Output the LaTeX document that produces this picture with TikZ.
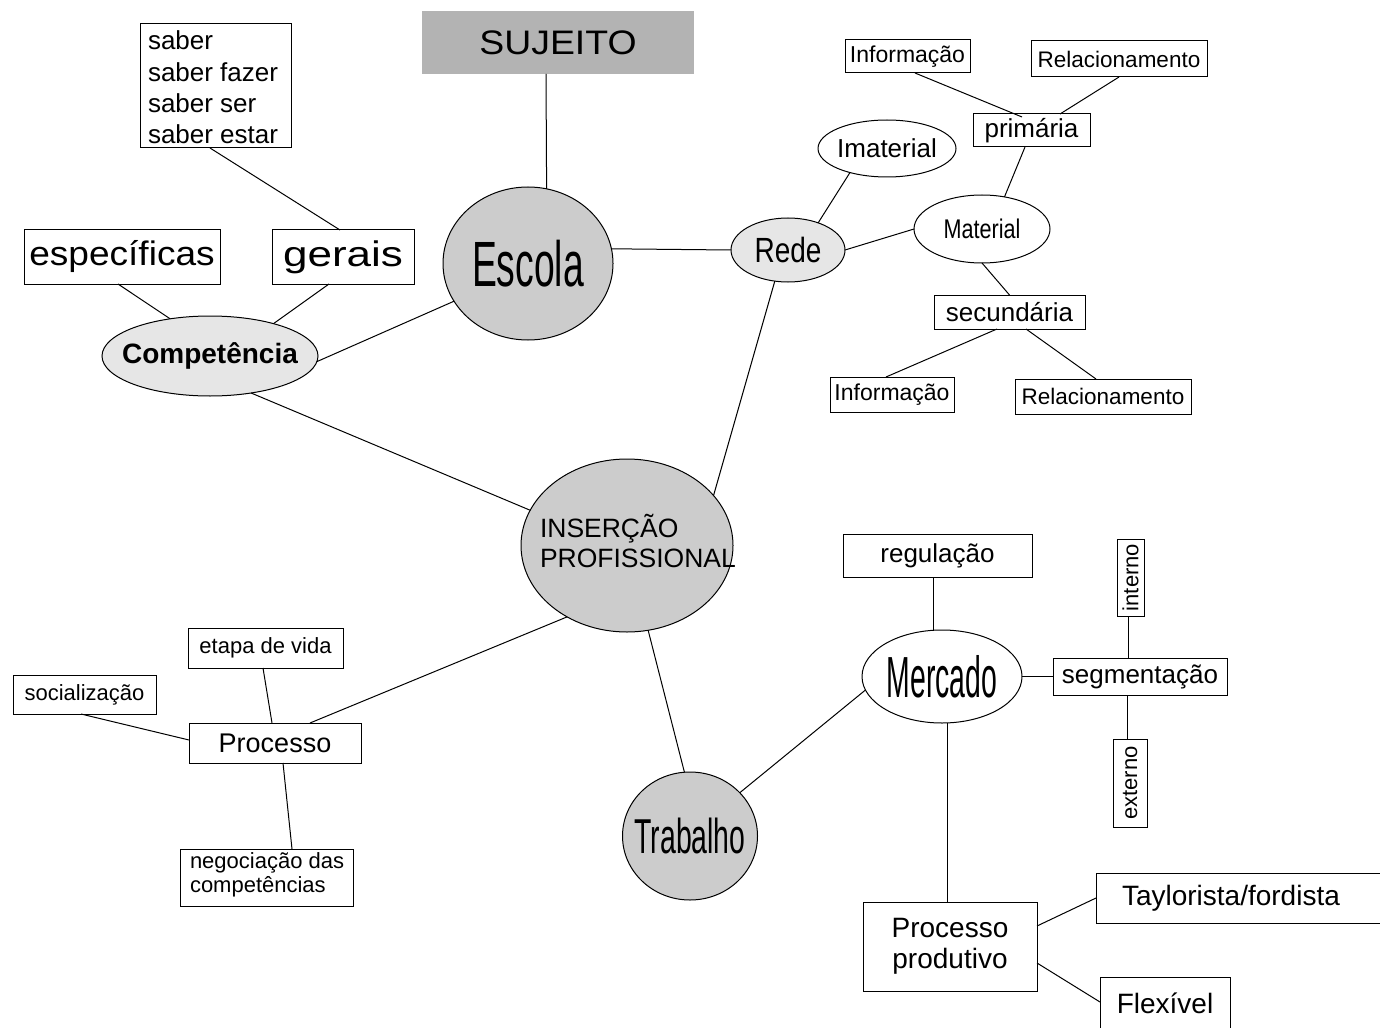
\documentclass[tikz,border=0pt]{standalone}
\usepackage{fontspec}
\setmainfont{Liberation Sans}
\usepackage{graphicx}
\usetikzlibrary{shapes.geometric}
\definecolor{gdark}{HTML}{CCCCCC}
\definecolor{glight}{HTML}{E6E6E6}
\definecolor{gsuj}{HTML}{B3B3B3}
\newcommand\fsz[2]{\fontsize{#1}{#2}\selectfont}
\newcommand\sx[2]{\scalebox{#1}[1]{#2}}
\begin{document}
\begin{tikzpicture}[x=0.5pt,y=-0.5pt,
  every node/.style={inner sep=0pt, outer sep=0pt},
  box/.style={draw=black, line width=0.5pt, rectangle, align=center},
  ell/.style={draw=black, line width=0.5pt, ellipse},
  link/.style={draw=black, line width=0.5pt}]
\useasboundingbox (0,0) rectangle (1380,1027);
\fill[white] (0,0) rectangle (1380,1027);

% ---- top / Escola ----
\node[fill=gsuj, minimum width=136pt, minimum height=31.5pt] (suj) at (558,42.5) {\fsz{17}{20}\sx{1.1}{SUJEITO}};
\node[ell, fill=gdark, minimum width=85pt, minimum height=76.5pt] (escola) at (528,263.5) {\makebox[0pt]{\fsz{32}{36}\sx{0.583}{Escola}}};

% ---- Competencia branch ----
\node[ell, fill=glight, minimum width=108pt, minimum height=40pt] (comp) at (210,356) {\makebox[0pt]{\fsz{14}{16}\bfseries Competência}};
\node[box, minimum width=98pt, minimum height=27pt] (spec) at (122,257) {\fsz{17}{20}\sx{1.09}{específicas}};
\node[box, minimum width=71pt, minimum height=27pt] (gerais) at (343,257) {\fsz{17.75}{20}\sx{1.24}{gerais}};
\node[box, minimum width=75.5pt, minimum height=62pt] (saber) at (215.5,86) {};
\node[anchor=base west] (sabertxt) at (148,50) {\fsz{13}{15.65}\begin{tabular}[t]{@{}l@{}}saber\\saber fazer\\saber ser\\saber estar\end{tabular}};

% ---- Rede branch ----
\node[ell, fill=glight, minimum width=57pt, minimum height=32pt] (rede) at (788,250) {\makebox[0pt]{\fsz{17.5}{20}\sx{0.8}{Rede}}};
\node[ell, fill=white, minimum width=69pt, minimum height=28.5pt] (imat) at (887,148.5) {\makebox[0pt]{\fsz{13}{15}Imaterial}};
\node[ell, fill=white, minimum width=68pt, minimum height=34pt] (mat) at (982,229) {\makebox[0pt]{\fsz{13.5}{15}\sx{0.8}{Material}}};
\node[box, minimum width=58.5pt, minimum height=16.5pt] (prim) at (1031.5,130.5) {\fsz{13}{15}primária};
\node[box, minimum width=62.5pt, minimum height=16.5pt] (info1) at (907.5,56.5) {\fsz{11.5}{13}Informação};
\node[box, minimum width=88pt, minimum height=18pt] (rel1) at (1119,59) {\fsz{11.25}{13}Relacionamento};
\node[box, minimum width=75.5pt, minimum height=17pt] (sec) at (1009.5,312) {\fsz{13}{15}secundária};
\node[box, minimum width=62pt, minimum height=17.5pt] (info2) at (892,394.5) {\fsz{11.5}{13}Informação};
\node[box, minimum width=88pt, minimum height=17.5pt] (rel2) at (1103,396.5) {\fsz{11.25}{13}Relacionamento};

% ---- Insercao ----
\node[ell, fill=gdark, minimum width=106pt, minimum height=86.5pt] (ins) at (627,545.5) {};
\node[anchor=base west] (instxt) at (540,537) {\fsz{13.25}{15}\begin{tabular}[t]{@{}l@{}}INSERÇÃO\\PROFISSIONAL\end{tabular}};

% ---- Processo branch ----
\node[box, minimum width=86pt, minimum height=20pt] (proc) at (275,743) {\fsz{13.5}{15}Processo};
\node[box, minimum width=77.5pt, minimum height=20pt] (etapa) at (265.5,648) {\fsz{11}{13}etapa de vida};
\node[box, minimum width=71.5pt, minimum height=19.5pt] (soc) at (84.5,694.5) {\fsz{11}{13}socialização};
\node[box, minimum width=86.5pt, minimum height=28.5pt] (neg) at (266.5,877.5) {};
\node[anchor=base west] (negtxt) at (190,868) {\fsz{11}{12}\begin{tabular}[t]{@{}l@{}}negociação das\\competências\end{tabular}};

% ---- Trabalho / Mercado ----
\node[ell, fill=gdark, minimum width=67.5pt, minimum height=64pt] (trab) at (690,836) {\makebox[0pt]{\fsz{24.5}{28}\sx{0.58}{Trabalho}}};
\node[ell, fill=white, minimum width=80pt, minimum height=46.5pt] (merc) at (942,676.5) {\makebox[0pt]{\fsz{29}{32}\sx{0.49}{Mercado}}};
\node[box, minimum width=94.5pt, minimum height=21.5pt] (reg) at (937.5,555.5) {\fsz{13}{15}regulação};
\node[box, minimum width=87pt, minimum height=18.5pt] (seg) at (1140,676.5) {\fsz{13}{15}segmentação};
\node[box, rotate=90, minimum width=38.5pt, minimum height=13.5pt] (intern) at (1130.5,577.5) {\fsz{11}{13}interno};
\node[box, rotate=90, minimum width=44pt, minimum height=17pt] (extern) at (1130,783) {\fsz{11}{13}externo};
\node[box, minimum width=87pt, minimum height=44.5pt, font=\fsz{14}{15.5}] (pp) at (950,946.5) {Processo\\produtivo};
\node[box, anchor=west, minimum width=147pt, minimum height=25pt] (tay) at (1096,898) {\makebox[147pt][l]{\hspace{13pt}\fsz{14}{16}Taylorista/fordista}};
\node[box, minimum width=65pt, minimum height=26.5pt] (flex) at (1165,1003.5) {\fsz{14}{16}Flexível};

% ---- connectors ----
\draw[link] ([xshift=-6pt]suj.south) -- (escola.76.5);
\draw[link] (escola.10) -- (rede.west);
\draw[link] (comp.-3) -- (escola.207.5);
\draw[link] ([xshift=-2pt]spec.south) -- (comp.137);
\draw[link] ([xshift=-7pt]gerais.south) -- (comp.27);
\draw[link] ([xshift=-2.75pt]saber.south) -- ([xshift=-1.5pt]gerais.north);
\draw[link] (comp.-42) -- (ins.160);

\draw[link] (rede.42) -- (imat.213);
\draw[link] (rede.east) -- (mat.west);
\draw[link] (mat.55) -- ([xshift=-3.25pt]prim.south);
\draw[link] ([xshift=3.75pt]info1.south) -- ([xshift=-4.75pt,yshift=-1.5pt]prim.north);
\draw[link] (rel1.south) -- ([xshift=14.25pt]prim.north);
\draw[link] (mat.south) -- (sec.north);
\draw[link] ([xshift=-6.25pt]sec.south) -- ([xshift=-3pt]info2.north);
\draw[link] ([xshift=8.25pt]sec.south) -- ([xshift=-3.5pt]rel2.north);
\draw[link] (rede.247) -- (ins.30);

\draw[link] (ins.230) -- ([xshift=17.5pt]proc.north);
\draw[link] ([xshift=-1.25pt]etapa.south) -- ([xshift=-1.5pt]proc.north);
\draw[link] ([xshift=-1.75pt]soc.south) -- ([yshift=1.5pt]proc.west);
\draw[link] ([xshift=4pt]proc.south) -- ([xshift=12.75pt]neg.north);

\draw[link] (ins.284) -- (trab.95);
\draw[link] (trab.41) -- (merc.190);
\draw[link] ([xshift=-2.25pt]reg.south) -- ([xshift=-2.25pt]reg.south |- merc.north);
\draw[link] (merc.east) -- (seg.west);
\draw[link] ([xshift=-6pt]seg.north) -- ([xshift=-6pt]seg.north |- intern.west);
\draw[link] ([xshift=-6.5pt]seg.south) -- ([xshift=-6.5pt]seg.south |- extern.east);
\draw[link] ([xshift=-1.5pt]pp.north) -- ([xshift=-1.5pt]pp.north |- merc.south);
\draw[link] ([yshift=10.25pt]pp.east) -- (tay.west);
\draw[link] ([yshift=-8.25pt]pp.east) -- ([yshift=0.75pt]flex.west);
\end{tikzpicture}
\end{document}
